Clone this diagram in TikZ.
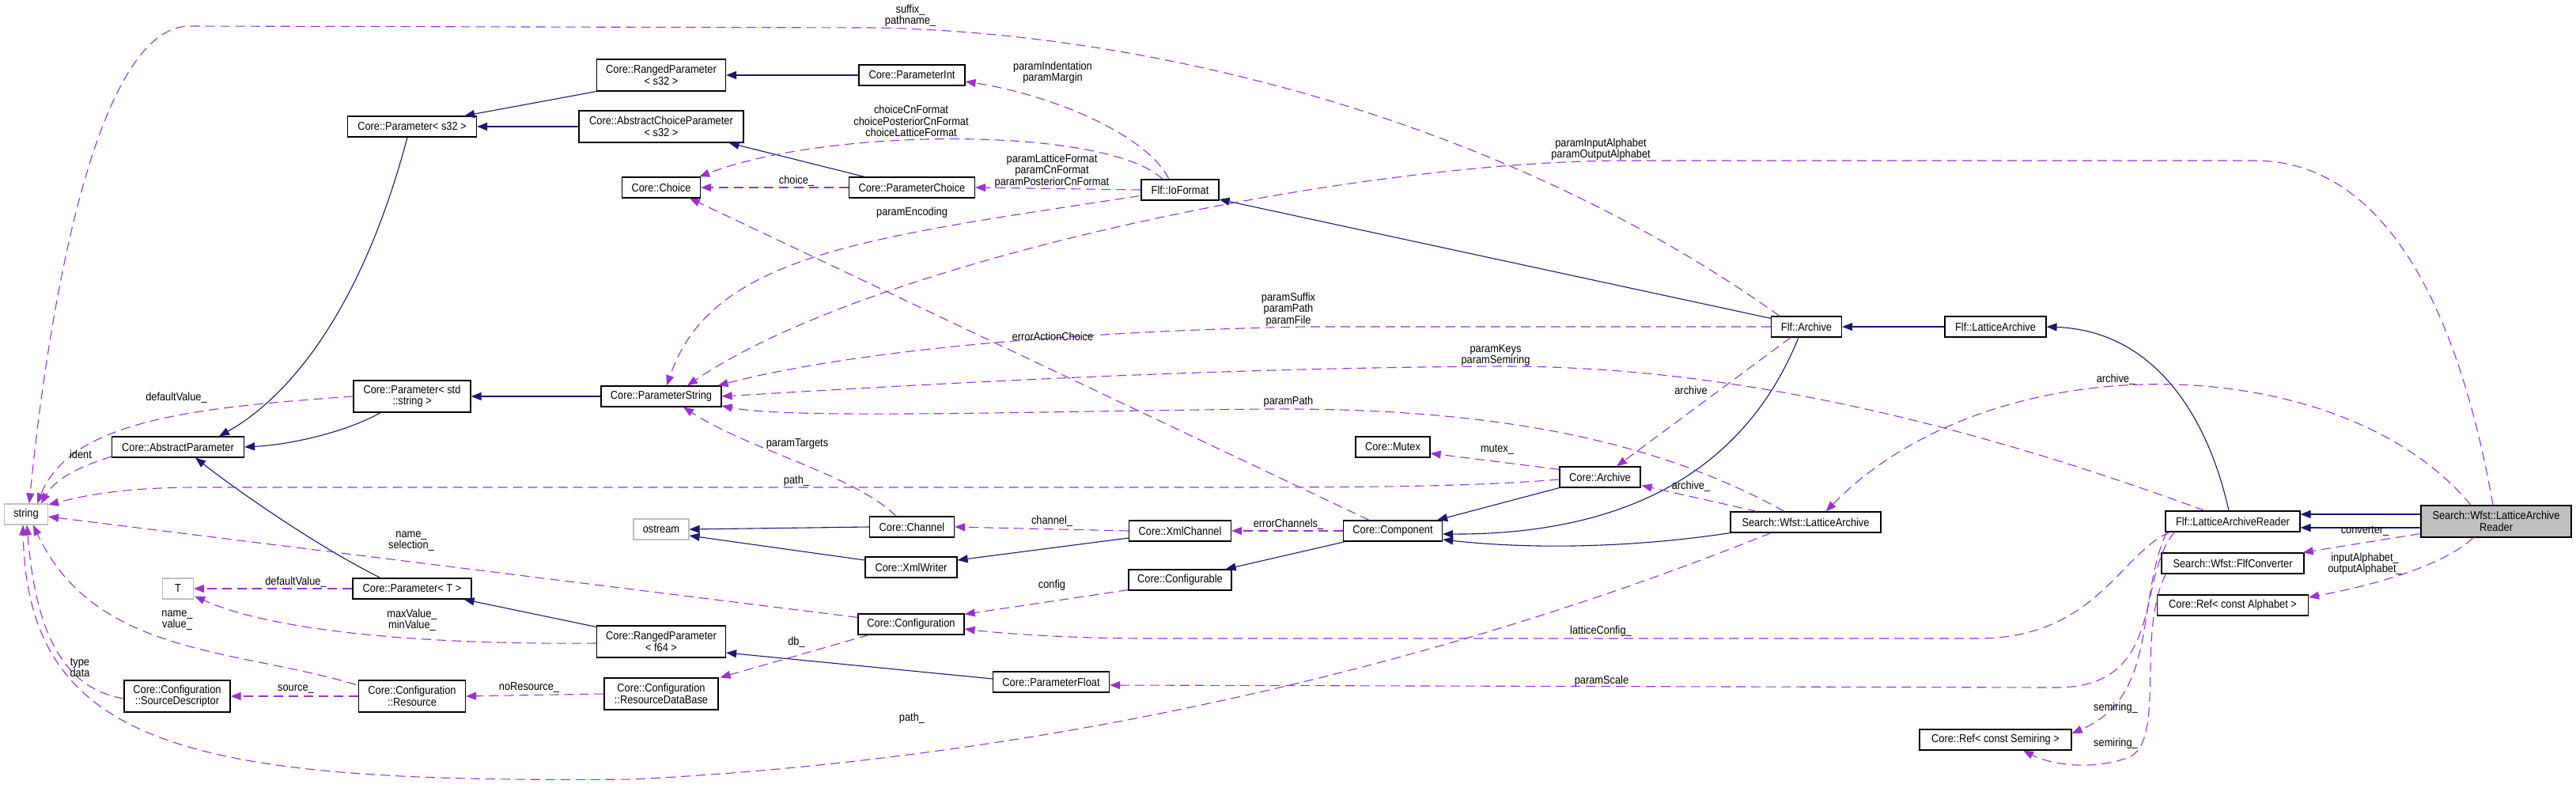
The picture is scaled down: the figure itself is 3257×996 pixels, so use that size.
\documentclass[tikz,border=0pt]{standalone}
\usepackage{fontspec}
\newfontfamily\dfont{Liberation Sans}[FakeStretch=0.89]
\usetikzlibrary{arrows.meta,calc}
\definecolor{navyc}{HTML}{191970}
\definecolor{purpc}{HTML}{9A32CD}
\definecolor{grayb}{HTML}{BFBFBF}
\tikzset{
  dfontsel/.style={font={\dfont\fontsize{7.2pt}{7.2pt}\selectfont}},
  cls/.style={dfontsel, draw=black, line width=0.6pt, fill=white, inner sep=0pt, align=center},
  ext/.style={cls, draw=grayb},
  cur/.style={cls, fill=grayb},
  wh/.style 2 args={minimum width={#1*0.5pt}, minimum height={#2*0.5pt}},
  inh/.style={draw=navyc, line width=0.55pt, -{Triangle[length=6.5pt,width=5pt]}},
  use/.style={draw=purpc, line width=0.55pt, dash pattern=on 6pt off 3.5pt, -{Triangle[length=6.5pt,width=5pt]}},
  lbl/.style={dfontsel, align=center, inner sep=0pt},
}
\begin{document}
\begin{tikzpicture}[x=0.5pt, y=-0.5pt]
\useasboundingbox[fill=white] (0,0) rectangle (3257,996);
% ---------- nodes ----------
\node[ext, wh={55}{26}] (string) at (33,650) {string};
\node[cls, wh={167}{26}] (AbsParam) at (225,565) {Core::AbstractParameter};
\node[ext, wh={39}{26}] (T) at (225,744) {T};
\node[cls, wh={134}{40}] (SrcDesc) at (224,880) {Core::Configuration\\::SourceDescriptor};
\node[cls, wh={163}{26}] (Ps32) at (521,160) {Core::Parameter< s32 >};
\node[cls, wh={148}{40}] (Pstd) at (521,501) {Core::Parameter< std\\::string >};
\node[cls, wh={150}{26}] (PT) at (521,744) {Core::Parameter< T >};
\node[cls, wh={135}{40}] (Resource) at (521,880) {Core::Configuration\\::Resource};
\node[cls, wh={163}{40}] (RPs32) at (836,95) {Core::RangedParameter\\< s32 >};
\node[cls, wh={208}{40}] (ACPs32) at (836,160) {Core::AbstractChoiceParameter\\< s32 >};
\node[cls, wh={99}{26}] (Choice) at (836,237) {Core::Choice};
\node[cls, wh={152}{26}] (PString) at (836,501) {Core::ParameterString};
\node[ext, wh={70}{26}] (ostream) at (836,669) {ostream};
\node[cls, wh={163}{40}] (RPf64) at (836,811) {Core::RangedParameter\\< f64 >};
\node[cls, wh={144}{40}] (RDB) at (836,877) {Core::Configuration\\::ResourceDataBase};
\node[cls, wh={134}{26}] (PInt) at (1153,95) {Core::ParameterInt};
\node[cls, wh={159}{26}] (PChoice) at (1153,237) {Core::ParameterChoice};
\node[cls, wh={107}{26}] (Channel) at (1153,666) {Core::Channel};
\node[cls, wh={116}{26}] (XmlWriter) at (1152,717) {Core::XmlWriter};
\node[cls, wh={134}{26}] (Config) at (1152,789) {Core::Configuration};
\node[cls, wh={98}{26}] (IoFormat) at (1492,240) {Flf::IoFormat};
\node[cls, wh={129}{26}] (XmlChannel) at (1492,671) {Core::XmlChannel};
\node[cls, wh={130}{26}] (Configurable) at (1492,733) {Core::Configurable};
\node[cls, wh={147}{26}] (PFloat) at (1329,862) {Core::ParameterFloat};
\node[cls, wh={94}{26}] (Mutex) at (1761,565) {Core::Mutex};
\node[cls, wh={125}{26}] (Component) at (1761,671) {Core::Component};
\node[cls, wh={89}{26}] (FArchive) at (2284,413) {Flf::Archive};
\node[cls, wh={102}{26}] (CArchive) at (2023,603) {Core::Archive};
\node[cls, wh={190}{26}] (SWLA) at (2283,660) {Search::Wfst::LatticeArchive};
\node[cls, wh={128}{26}] (FLA) at (2523,413) {Flf::LatticeArchive};
\node[cls, wh={192}{26}] (RefSemi) at (2523,935) {Core::Ref< const Semiring >};
\node[cls, wh={170}{26}] (FLAR) at (2823,659) {Flf::LatticeArchiveReader};
\node[cls, wh={180}{26}] (FlfConv) at (2823,712) {Search::Wfst::FlfConverter};
\node[cls, wh={191}{26}] (RefAlpha) at (2823,765) {Core::Ref< const Alphabet >};
\node[cur, wh={190}{40}] (SWLAR) at (3156,659) {Search::Wfst::LatticeArchive\\Reader};
% ---------- inheritance ----------
\draw[inh] (RPs32.south west) -- ($(Ps32.north east)+(-16,0)$);
\draw[inh] (ACPs32.west) -- (Ps32.east);
\draw[inh] ($(Ps32.south)+(-6,0)$) .. controls (455,400) and (360,505) .. ($(AbsParam.north)+(52,0)$);
\draw[inh] (PInt.west) -- (RPs32.east);
\draw[inh] ($(PChoice.north)+(-60,0)$) -- ($(ACPs32.south east)+(-19,0)$);
\draw[inh] ($(Pstd.south)+(-40,0)$) .. controls (440,545) and (370,562) .. (AbsParam.east);
\draw[inh] (PString.west) -- (Pstd.east);
\draw[inh] ($(PT.north)+(-40,0)$) .. controls (400,690) and (300,620) .. ($(AbsParam.south)+(22,0)$);
\draw[inh] ($(RPf64.north west)+(0,2)$) -- ($(PT.south east)+(-10,0)$);
\draw[inh] ($(PFloat.west)+(0,-4)$) -- ($(RPf64.east)+(0,14)$);
\draw[inh] (Channel.west) -- (ostream.east);
\draw[inh] ($(XmlWriter.west)+(0,-9)$) -- ($(ostream.east)+(0,8)$);
\draw[inh] ($(XmlChannel.west)+(0,9)$) -- ($(XmlWriter.east)+(0,-9)$);
\draw[inh] ($(Component.south west)+(3,0)$) -- ($(Configurable.north east)+(-8,0)$);
\draw[inh] (CArchive.south west) -- ($(Component.north east)+(-7,0)$);
\draw[inh] ($(FArchive.south)+(-10,0)$) .. controls (2220,560) and (2100,676) .. ($(Component.east)+(0,4)$);
\draw[inh] (SWLA.south west) .. controls (2080,690) and (1950,696) .. ($(Component.east)+(0,11)$);
\draw[inh] ($(FArchive.north west)+(0,3)$) -- ($(IoFormat.east)+(0,12)$);
\draw[inh] (FLA.west) -- (FArchive.east);
\draw[inh] ($(FLAR.north)+(-5,0)$) .. controls (2790,520) and (2720,418) .. (FLA.east);
\draw[inh] ($(SWLAR.west)+(0,-9)$) -- ($(FLAR.east)+(0,-9)$);
\draw[inh] ($(SWLAR.west)+(0,8)$) -- ($(FLAR.east)+(0,8)$);
% ---------- usage ----------
\draw[use] ($(FArchive.north)+(-34,0)$) .. controls (1900,150) and (1450,40) .. (1100,35) -- (240,33) .. controls (120,33) and (60,400) .. ($(string.north)+(4,0)$);
\draw[use] ($(IoFormat.north)+(-14,0)$) .. controls (1450,170) and (1330,120) .. ($(PInt.east)+(0,8)$);
\draw[use] ($(IoFormat.north)+(-22,0)$) .. controls (1400,160) and (1050,160) .. ($(Choice.north east)+(-2,0)$);
\draw[use] (IoFormat.west) -- (PChoice.east);
\draw[use] (PChoice.west) -- (Choice.east);
\draw[use] ($(IoFormat.south west)+(-2,-6)$) .. controls (1100,300) and (900,320) .. ($(PString.north)+(7,0)$);
\draw[use] ($(SWLAR.north)+(-4,0)$) .. controls (3110,400) and (3020,203) .. (2850,203) -- (2050,203) .. controls (1700,205) and (1100,330) .. ($(PString.north)+(33,0)$);
\draw[use] (FArchive.west) -- (1650,413) .. controls (1300,420) and (1050,450) .. ($(PString.north east)+(-5,0)$);
\draw[use] ($(FLAR.north west)+(50,0)$) .. controls (2500,540) and (2200,463) .. (1900,463) .. controls (1500,465) and (1100,490) .. (PString.east);
\draw[use] ($(SWLA.north)+(-27,0)$) .. controls (2100,560) and (1900,515) .. (1600,517) .. controls (1300,520) and (1000,530) .. ($(PString.east)+(0,12)$);
\draw[use] ($(Component.north)+(-30,0)$) -- ($(Choice.south)+(36,0)$);
\draw[use] ($(FArchive.south)+(-20,0)$) -- ($(CArchive.north)+(21,0)$);
\draw[use] ($(SWLA.north west)+(34,0)$) -- ($(CArchive.south east)+(1,-3)$);
\draw[use] ($(SWLAR.north)+(-32,0)$) .. controls (2960,440) and (2520,430) .. ($(SWLA.north east)+(-70,0)$);
\draw[use] ($(CArchive.north west)+(0,4)$) -- ($(Mutex.east)+(0,8)$);
\draw[use] ($(CArchive.west)+(0,3)$) .. controls (1850,616) and (1700,616) .. (1500,616) -- (250,616) .. controls (150,616) and (100,628) .. ($(string.east)+(0,-12)$);
\draw[use] ($(Config.north west)+(0,5)$) -- ($(string.east)+(0,3)$);
\draw[use] (Pstd.west) .. controls (250,515) and (90,530) .. ($(string.north)+(14,0)$);
\draw[use] ($(AbsParam.west)+(0,12)$) .. controls (100,590) and (70,605) .. ($(string.north)+(19,0)$);
\draw[use] ($(Resource.north west)+(-3,6)$) .. controls (300,820) and (120,830) .. ($(string.south)+(9,0)$);
\draw[use] ($(SrcDesc.west)+(0,3)$) .. controls (80,870) and (45,800) .. ($(string.south)+(1,0)$);
\draw[use] ($(SWLA.south)+(-44,0)$) .. controls (1800,850) and (1300,960) .. (800,985) .. controls (250,990) and (35,950) .. ($(string.south)+(-4,0)$);
\draw[use] (PT.west) -- (T.east);
\draw[use] ($(RPf64.west)+(0,2)$) .. controls (550,815) and (350,800) .. ($(T.south east)+(1,-4)$);
\draw[use] (Resource.west) -- (SrcDesc.east);
\draw[use] (RDB.west) -- (Resource.east);
\draw[use] ($(Config.south west)+(14,0)$) -- ($(RDB.north east)+(2,0)$);
\draw[use] ($(Configurable.south west)+(0,-1)$) -- ($(Config.north east)+(0,1)$);
\draw[use] (XmlChannel.west) -- (Channel.east);
\draw[use] ($(Channel.north)+(-20,0)$) .. controls (1080,600) and (950,570) .. ($(PString.south)+(28,0)$);
\draw[use] (Component.west) -- (XmlChannel.east);
\draw[use] ($(FLAR.south west)+(6,0)$) .. controls (2680,700) and (2650,807) .. (2500,807) -- (1450,807) .. controls (1350,807) and (1260,800) .. ($(Config.east)+(0,6)$);
\draw[use] ($(FLAR.south west)+(12,0)$) .. controls (2700,730) and (2740,869) .. (2600,869) -- ($(PFloat.east)+(0,4)$);
\draw[use] ($(FLAR.south west)+(2,0)$) .. controls (2700,760) and (2730,880) .. ($(RefSemi.east)+(0,-8)$);
\draw[use] ($(FlfConv.south west)+(6,0)$) .. controls (2700,800) and (2740,940) .. (2690,958) .. controls (2640,975) and (2590,965) .. ($(RefSemi.south)+(35,0)$);
\draw[use] ($(SWLAR.south west)+(-1,-5)$) -- ($(FlfConv.north east)+(-2,0)$);
\draw[use] ($(SWLAR.south)+(-29,0)$) .. controls (3090,715) and (3000,740) .. ($(RefAlpha.east)+(0,-10)$);
% ---------- labels ----------
\node[lbl] (l1) at (1151,20) {suffix\_\\pathname\_};
\node[lbl] (l2) at (1331,92) {paramIndentation\\paramMargin};
\node[lbl] (l3) at (1152,153) {choiceCnFormat\\choicePosteriorCnFormat\\choiceLatticeFormat};
\node[lbl] (l4) at (1330,216) {paramLatticeFormat\\paramCnFormat\\paramPosteriorCnFormat};
\node[lbl] (l5) at (1007,229) {choice\_};
\node[lbl] (l6) at (1153,269) {paramEncoding};
\node[lbl] (l7) at (1331,425) {errorActionChoice};
\node[lbl] (l8) at (2024,189) {paramInputAlphabet\\paramOutputAlphabet};
\node[lbl] (l9) at (1629,391) {paramSuffix\\paramPath\\paramFile};
\node[lbl] (l10) at (1891,449) {paramKeys\\paramSemiring};
\node[lbl] (l11) at (2138,493) {archive};
\node[lbl] (l12) at (1629,508) {paramPath};
\node[lbl] (l13) at (1893,568) {mutex\_};
\node[lbl] (l14) at (2138,615) {archive\_};
\node[lbl] (l15) at (2675,480) {archive\_};
\node[lbl] (l16) at (1629,663) {errorChannels\_};
\node[lbl] (l17) at (2024,798) {latticeConfig\_};
\node[lbl] (l18) at (2025,861) {paramScale};
\node[lbl] (l19) at (1008,561) {paramTargets};
\node[lbl] (l20) at (1007,608) {path\_};
\node[lbl] (l21) at (1330,659) {channel\_};
\node[lbl] (l22) at (1330,740) {config};
\node[lbl] (l23) at (1007,812) {db\_};
\node[lbl] (l24) at (1153,908) {path\_};
\node[lbl] (l25) at (223,503) {defaultValue\_};
\node[lbl] (l26) at (102,574) {ident};
\node[lbl] (l27) at (520,684) {name\_\\selection\_};
\node[lbl] (l28) at (374,736) {defaultValue\_};
\node[lbl] (l29) at (224,784) {name\_\\value\_};
\node[lbl] (l30) at (521,784) {maxValue\_\\minValue\_};
\node[lbl] (l31) at (101,844) {type\\data};
\node[lbl] (l32) at (374,871) {source\_};
\node[lbl] (l33) at (669,869) {noResource\_};
\node[lbl] (l34) at (2990,671) {converter\_};
\node[lbl] (l35) at (2990,713) {inputAlphabet\_\\outputAlphabet\_};
\node[lbl] (l36) at (2675,895) {semiring\_};
\node[lbl] (l37) at (2675,940) {semiring\_};
\end{tikzpicture}
\end{document}
